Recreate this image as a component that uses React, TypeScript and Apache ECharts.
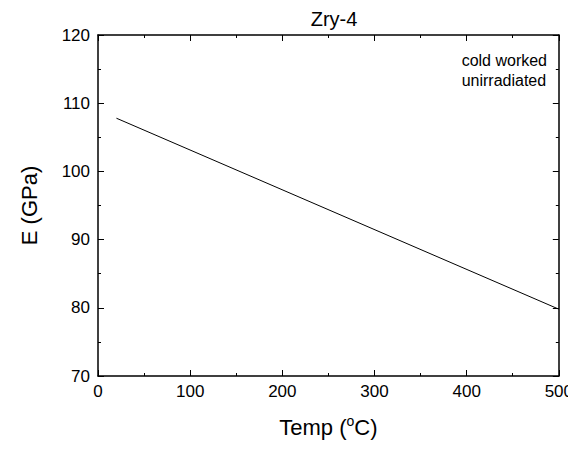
import React, { useEffect, useRef } from "react";
import * as echarts from "echarts";

const temps = [20, 500];
const modulus = [107.8, 79.8];
const xTicks = [0, 100, 200, 300, 400, 500];
const yTicks = [70, 80, 90, 100, 110, 120];
const titleText = "Zry-4";
const noteLines = ["cold worked", "unirradiated"];

export default function App() {
  const ref = useRef<HTMLDivElement>(null);
  useEffect(() => {
    if (!ref.current) return;
    const chart = echarts.init(ref.current, undefined, { renderer: "svg" });
    const font = "Liberation Sans, Arial, sans-serif";
    const axisCommon = {
      axisLine: { show: true, onZero: false, lineStyle: { color: "#000", width: 1.5 } },
      axisTick: { show: true, inside: true, length: 6, lineStyle: { color: "#000", width: 1 } },
      minorTick: { show: true, splitNumber: 2, length: 3, lineStyle: { color: "#000", width: 1 } },
      splitLine: { show: false },
    };
    chart.setOption({
      animation: false,
      backgroundColor: "#fff",
      title: {
        text: titleText,
        left: 329,
        textAlign: "center",
        top: 4,
        textStyle: { fontFamily: font, fontSize: 20, fontWeight: "normal", color: "#000" },
      },
      grid: { left: 98, right: 16, top: 35, bottom: 74, containLabel: false },
      xAxis: [
        {
          type: "value",
          min: xTicks[0],
          max: xTicks[xTicks.length - 1],
          interval: 100,
          position: "bottom",
          ...axisCommon,
          axisLabel: { color: "#000", fontFamily: font, fontSize: 17, margin: 7 },
          name: "Temp ({sup|o}C)",
          nameLocation: "middle",
          nameGap: 38,
          nameTextStyle: {
            fontFamily: font,
            fontSize: 22,
            color: "#000",
            rich: {
              sup: { fontFamily: font, fontSize: 14, color: "#000", verticalAlign: "top", padding: [0, 0, 12, 0] },
            },
          },
        },
        {
          type: "value",
          min: xTicks[0],
          max: xTicks[xTicks.length - 1],
          interval: 100,
          position: "top",
          ...axisCommon,
          axisLabel: { show: false },
        },
      ],
      yAxis: [
        {
          type: "value",
          min: yTicks[0],
          max: yTicks[yTicks.length - 1],
          interval: 10,
          position: "left",
          ...axisCommon,
          axisLabel: { color: "#000", fontFamily: font, fontSize: 17, margin: 8 },
          name: "E (GPa)",
          nameLocation: "middle",
          nameGap: 58,
          nameTextStyle: { fontFamily: font, fontSize: 22, color: "#000" },
        },
        {
          type: "value",
          min: yTicks[0],
          max: yTicks[yTicks.length - 1],
          interval: 10,
          position: "right",
          ...axisCommon,
          axisLabel: { show: false },
        },
      ],
      graphic: [
        {
          type: "text",
          right: 29,
          top: 50,
          style: {
            text: noteLines.join("\n"),
            fontFamily: font,
            fontSize: 16,
            lineHeight: 20,
            fill: "#000",
            align: "right",
          },
        },
      ],
      series: [
        {
          type: "line",
          data: temps.map((t, i) => [t, modulus[i]]),
          showSymbol: false,
          lineStyle: { color: "#000", width: 1 },
          silent: true,
        },
      ],
    });
    return () => chart.dispose();
  }, []);
  return <div ref={ref} style={{ width: 576, height: 450, margin: -8 }} />;
}
